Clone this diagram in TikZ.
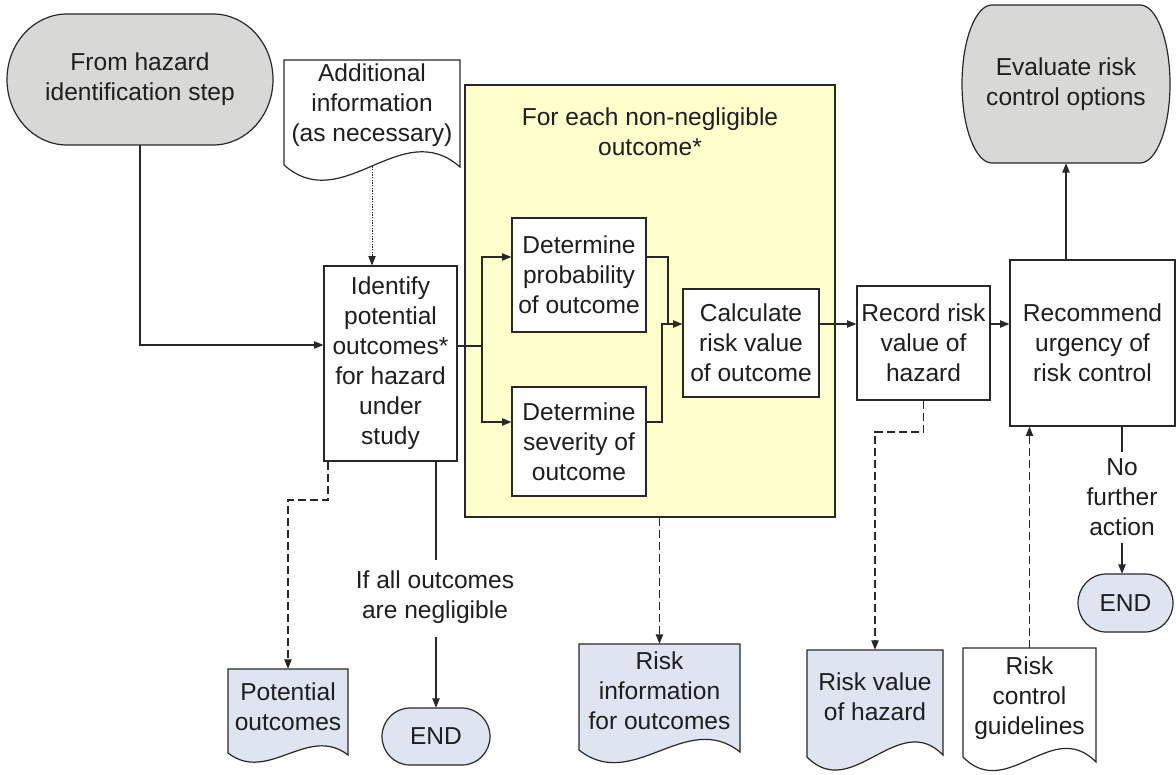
\documentclass[tikz,border=0pt]{standalone}
\usepackage{fontspec}
\setmainfont{Liberation Sans}
\usetikzlibrary{arrows.meta}
\pgfdeclarelayer{bg}
\pgfdeclarelayer{edges}
\pgfsetlayers{bg,edges,main}
\definecolor{termgray}{RGB}{216,216,214}
\definecolor{docblue}{RGB}{222,228,240}
\definecolor{panelyellow}{RGB}{255,255,204}
\definecolor{inkline}{RGB}{40,40,40}
\definecolor{inktext}{RGB}{30,30,30}
\begin{document}
\begin{tikzpicture}[x=0.75pt,y=-0.75pt,
  every node/.style={font=\fontsize{18.4}{22.5}\selectfont, text=inktext, align=center, inner sep=0pt},
  wh/.style 2 args={minimum width=#1*0.75pt, minimum height=#2*0.75pt},
  procbox/.style={draw=inkline, line width=0.9pt, fill=white, rectangle},
  outline/.style={draw=inkline, line width=0.9pt},
  flow/.style={draw=inkline, line width=0.8pt},
  tip/.style={-{Triangle[length=7pt,width=5.5pt]}},
  dashedflow/.style={flow, dash pattern=on 6pt off 3pt},
  dottedflow/.style={flow, line width=0.6pt, dash pattern=on 1pt off 1pt},
]
\useasboundingbox (0,0) rectangle (1176,774);

% background and the yellow loop panel
\begin{pgfonlayer}{bg}
  \fill[white] (0,0) rectangle (1176,774);
  \node[draw=inkline, line width=0.9pt, fill=panelyellow, wh={370}{432}] (panel) at (650,301) {};
\end{pgfonlayer}
\node (ptitle) at (650,132) {For each non-negligible\\outcome*};

% terminators
\filldraw[outline, fill=termgray] (67,14) -- (213,14)
  arc[start angle=-90, end angle=90, x radius=60, y radius=65.5] -- (67,145)
  arc[start angle=90, end angle=270, x radius=60, y radius=65.5] -- cycle;
\node[wh={266}{131}] (hz) at (140,79.5) {From hazard\\identification step};

\filldraw[outline, fill=termgray] (992,5) -- (1140,5)
  arc[start angle=-90, end angle=90, x radius=30, y radius=79] -- (992,163)
  arc[start angle=90, end angle=270, x radius=30, y radius=79] -- cycle;
\node[wh={208}{158}] (eval) at (1066,84) {Evaluate risk\\control options};

\filldraw[outline, fill=docblue] (410,708) -- (462,708)
  arc[start angle=-90, end angle=90, x radius=28, y radius=28.5] -- (410,765)
  arc[start angle=90, end angle=270, x radius=28, y radius=28.5] -- cycle;
\node[wh={108}{57}] (end1) at (436,736.5) {END};

\filldraw[outline, fill=docblue] (1106,574) -- (1145,574)
  arc[start angle=-90, end angle=90, x radius=28, y radius=29] -- (1106,632)
  arc[start angle=90, end angle=270, x radius=28, y radius=29] -- cycle;
\node[wh={95}{58}] (end2) at (1125.5,603) {END};

% documents
\filldraw[outline, fill=white] (284,60) -- (460,60) -- (460,167)
  .. controls (401,115) and (343,217) .. (284,165) -- cycle;
\node[wh={176}{90}] (addi) at (372,105) {Additional\\information\\(as necessary)};

\filldraw[outline, fill=docblue] (228,669) -- (348,669) -- (348,755)
  .. controls (308,724) and (268,784) .. (228,753) -- cycle;
\node[wh={120}{76}] (pot) at (288,707) {Potential\\outcomes};

\filldraw[outline, fill=docblue] (579,644) -- (740,644) -- (740,752)
  .. controls (686,709) and (633,793) .. (579,750) -- cycle;
\node[wh={161}{94}] (rinfo) at (659.5,691) {Risk\\information\\for outcomes};

\filldraw[outline, fill=docblue] (807,650) -- (943,650) -- (943,755)
  .. controls (898,709) and (852,803) .. (807,757) -- cycle;
\node[wh={136}{94}] (rval) at (875,697) {Risk value\\of hazard};

\filldraw[outline, fill=white] (963,648) -- (1096,648) -- (1096,762)
  .. controls (1052,717) and (1007,802) .. (963,757) -- cycle;
\node[wh={133}{100}] (guide) at (1029.5,698) {Risk\\control\\guidelines};

% process steps
\node[procbox, wh={133}{195}] (ident) at (390.5,363.5) {Identify\\potential\\outcomes*\\for hazard\\under\\study};
\node[procbox, wh={134}{114}] (prob) at (579,275) {Determine\\probability\\of outcome};
\node[procbox, wh={134}{109}] (sev) at (579,441.5) {Determine\\severity of\\outcome};
\node[procbox, wh={136}{108}] (calc) at (751,343) {Calculate\\risk value\\of outcome};
\node[procbox, wh={133}{114}] (rec) at (923.5,343) {Record risk\\value of\\hazard};
\node[procbox, wh={165}{166}] (recom) at (1092.5,343) {Recommend\\urgency of\\risk control};

% branch labels
\node (negl) at (435,597) {If all outcomes\\are negligible};
\node (nfa) at (1122,497) {No\\further\\action};

% connectors
\coordinate (hzbend) at (140,345);
\coordinate (split) at (482,346);
\coordinate (probin) at (482,257);
\coordinate (sevin) at (482,422);
\coordinate (probout) at (668,257);
\coordinate (sevout) at (662,422);
\coordinate (merge) at (662,324);
\coordinate (nfatop) at (1122,452);
\coordinate (nfabot) at (1122,543);
\coordinate (negtop) at (436,560);
\coordinate (negbot) at (436,637);
\coordinate (potbend) at (328,500);
\coordinate (rvbend) at (923.5,432);

\begin{pgfonlayer}{edges}
  \draw[flow,tip] (hz.south) -- (hzbend) -- (ident.west |- hzbend);
  \draw[dottedflow,tip] (addi.south) -- (addi.south |- ident.north);
  \draw[flow] (ident.east |- split) -- (split);
  \draw[flow,tip] (split) -- (probin) -- (prob.west |- probin);
  \draw[flow,tip] (split) -- (sevin) -- (sev.west |- sevin);
  \draw[flow] (prob.east |- probout) -- (probout) -- (probout |- merge);
  \draw[flow,tip] (sev.east |- sevout) -- (sevout) -- (merge) -- (calc.west |- merge);
  \draw[flow,tip] (calc.east |- merge) -- (rec.west |- merge);
  \draw[flow,tip] (rec.east |- merge) -- (recom.west |- merge);
  \draw[flow,tip] (recom.north -| eval.south) -- (eval.south);
  \draw[flow] (recom.south -| nfatop) -- (nfatop);
  \draw[flow,tip] (nfabot) -- (nfabot |- end2.north);
  \draw[flow] (ident.south -| negtop) -- (negtop);
  \draw[flow,tip] (negbot) -- (end1.north);
  \draw[dashedflow,tip] (ident.south -| potbend) -- (potbend) -- (pot.north |- potbend) -- (pot.north);
  \draw[dashedflow,tip] (panel.south -| rinfo.north) -- (rinfo.north);
  \draw[dashedflow,tip] (rec.south) -- (rvbend) -- (rval.north |- rvbend) -- (rval.north);
  \draw[dashedflow,tip] (guide.north) -- (guide.north |- recom.south);
\end{pgfonlayer}
\end{tikzpicture}
\end{document}
